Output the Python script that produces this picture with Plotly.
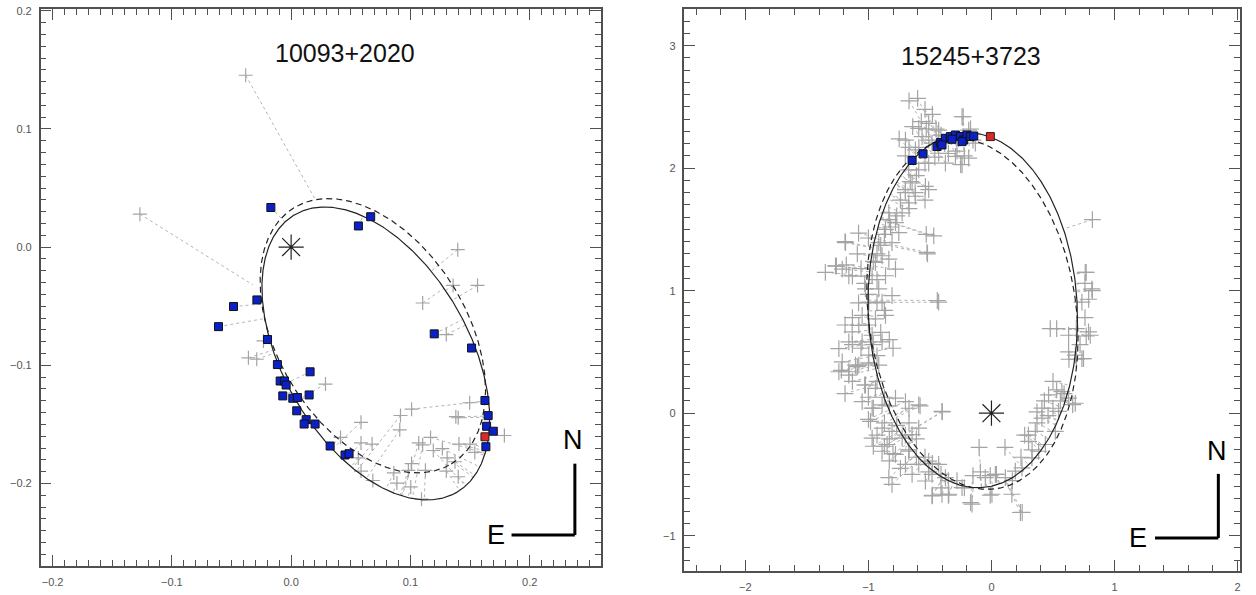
import numpy as np
import plotly.graph_objects as go

# ---------------- 10093+2020 ----------------
# older measurements (grey crosses)
L_OLD_X = [0.1397, 0.1358, 0.1563, 0.1103, 0.1301, -0.0358, -0.0288, -0.0232, 0.0288, 0.1010,
           0.0917, 0.0911, 0.0586, 0.0586, 0.0679, 0.1070, 0.1103, 0.1169, 0.1381, 0.1401,
           0.1497, 0.1500, 0.1407, 0.1308, 0.1192, 0.1010, 0.0983, 0.1126, 0.1003, 0.1093,
           0.0861, 0.0586, 0.0685, 0.0563, 0.1268, 0.1401, 0.1301, 0.1540, 0.1788, 0.0414,
           0.0887, 0.1374]
L_OLD_Y = [-0.0022, -0.0324, -0.0324, -0.0473, -0.0740, -0.0937, -0.0949, -0.0794, -0.1159, -0.1371,
           -0.1425, -0.1546, -0.1483, -0.1657, -0.1667, -0.1657, -0.1673, -0.1610, -0.1435, -0.1444,
           -0.1317, -0.1667, -0.1667, -0.1784, -0.1721, -0.1832, -0.1889, -0.1889, -0.2029, -0.2133,
           -0.1911, -0.1895, -0.1975, -0.1784, -0.1705, -0.1943, -0.1895, -0.1737, -0.1594, -0.1610,
           -0.1997, -0.1816]
# discrepant old measurements and their predicted positions on the orbit
L_FAR_X = [-0.0381, -0.1268]
L_FAR_Y = [0.1454, 0.0279]
L_FAR_PX = [0.021, -0.032]
L_FAR_PY = [0.039, -0.032]
# speckle measurements (blue squares)
L_NEW_X = [-0.0170, 0.0564, 0.0667, -0.0287, -0.0483, -0.0609, -0.0198, -0.0115, -0.0092, -0.0056,
           -0.0042, -0.0070, 0.0014, 0.0053, 0.0047, 0.0159, 0.0151, 0.0126, 0.0109, 0.0201,
           0.0327, 0.0452, 0.0486, 0.1200, 0.1513, 0.1625, 0.1652, 0.1639, 0.1695, 0.1633]
L_NEW_Y = [0.0335, 0.0179, 0.0257, -0.0447, -0.0503, -0.0673, -0.0782, -0.0994, -0.1133, -0.1133,
           -0.1167, -0.1259, -0.1279, -0.1273, -0.1385, -0.1055, -0.1251, -0.1460, -0.1497, -0.1497,
           -0.1683, -0.1759, -0.1748, -0.0734, -0.0854, -0.1298, -0.1426, -0.1516, -0.1558, -0.1689]
# latest measurement (red square)
L_LAST_X = [0.1625]
L_LAST_Y = [-0.1605]
# apparent orbits: centre x, centre y, semi-major, semi-minor, orientation (deg)
L_ORBIT_NEW = [0.071, -0.090, 0.1357, 0.0779, -60.2]
L_ORBIT_OLD = [0.0685, -0.075, 0.1269, 0.0794, -58.8]

# ---------------- 15245+3723 ----------------
R_OLD_X = [-0.67, -0.60, -0.54, -0.48, -0.23, -0.45, -0.41, -0.75, -0.67, -0.70, -0.59, -0.51, -0.38,
           -0.28, -0.17, -0.15, -0.22, -0.25, -0.53, -0.57, -0.64, -0.35, -0.46, -0.54, -0.61, -0.66,
           -0.62, -0.54, -0.70, -0.74, -0.67, -0.77, -0.83, -0.87, -0.82, -0.90, -0.93, -1.00, -1.08,
           -1.19, -1.09, -0.96, -1.06, -1.18, -1.26, -1.35, -1.13, -1.03, -0.93, -1.00, -1.08, -0.93,
           -0.87, -1.13, -1.19, -1.00, -0.90, -0.96, -1.06, -1.13, -0.83, -0.80, -0.93, -1.00, -1.09,
           -1.22, -1.19, -1.13, -1.03, -0.93, -1.00, -0.87, -0.96, -0.83, -0.67, -0.58, -0.40, -1.00,
           -0.87, -0.77, -0.67, -0.93, -0.83, -0.70, -0.61, -0.96, -0.87, -0.80, -0.67, -0.61, -0.83,
           -0.74, -0.54, -0.48, -0.51, -0.41, -0.35, -0.28, -0.41, -0.48, -0.35, -0.22, -0.15, -0.09,
           -0.01, 0.04, 0.17, -0.17, -0.01, -0.10, 0.11, 0.25, 0.30, 0.37, 0.46, 0.50, 0.56, 0.59,
           0.53, 0.43, 0.37, 0.27, 0.24, 0.33, 0.50, 0.63, 0.69, 0.72, 0.77, 0.69, 0.76, 0.79, 0.82,
           0.76, 0.77, 0.82, 0.53, 0.66, -0.44, -0.53, -0.52]
R_OLD_Y = [2.55, 2.57, 2.48, 2.44, 2.42, 2.32, 2.27, 2.24, 2.17, 2.10, 2.17, 2.23, 2.20,
           2.14, 2.32, 2.23, 2.10, 2.03, 2.32, 2.38, 2.34, 2.12, 2.09, 2.04, 1.94, 1.89,
           1.80, 1.74, 1.80, 1.74, 1.67, 1.61, 1.58, 1.46, 1.52, 1.37, 1.30, 1.43, 1.47,
           1.40, 1.30, 1.24, 1.18, 1.21, 1.20, 1.15, 1.12, 1.06, 1.09, 0.97, 0.90, 0.90,
           0.84, 0.78, 0.72, 0.72, 0.66, 0.56, 0.53, 0.56, 0.60, 0.53, 0.47, 0.41, 0.38,
           0.35, 0.16, 0.26, 0.23, 0.26, 0.13, 0.13, 0.04, 0.06, 0.04, 0.06, 0.01, -0.05,
           -0.08, -0.10, -0.08, -0.18, -0.21, -0.18, -0.21, -0.27, -0.27, -0.33, -0.30, -0.36, -0.39,
           -0.45, -0.36, -0.41, -0.48, -0.50, -0.55, -0.55, -0.61, -0.67, -0.67, -0.61, -0.51, -0.48,
           -0.51, -0.50, -0.55, -0.73, -0.67, -0.28, -0.28, -0.81, -0.18, -0.08, -0.02, 0.04, 0.10, 0.16,
           0.19, 0.10, 0.01, -0.18, -0.36, -0.30, 0.26, 0.44, 0.44, 0.56, 0.63, 0.69, 0.78, 0.93, 1.00,
           1.06, 1.15, 1.58, 0.69, 0.07, 0.92, 1.46, 1.30]
# further measurements along the north-east arc and the periastron side
R_MORE_X = [-0.699, -0.591, -0.510, -0.429, -0.564, -0.483, -0.618, -0.672, -0.591, -0.510, -0.429,
            -0.374, -0.293, -0.239, -0.185, -0.131, -0.185, -0.239, -0.537, -0.645, -0.699, -0.618,
            -0.510, -0.672, -0.726, -0.780, -0.834, -0.861, -0.916, -0.808, -0.753, -0.889, -0.943,
            -0.834, -0.970, -0.861, -0.780, -0.916, -1.024, -0.997, -0.889, -0.808, -1.051, -0.943,
            -0.861, -0.970, -1.051, -0.889, -0.997, -0.916, -1.105, -1.159, -1.213, -1.240, -1.159,
            -1.132, -1.078, -1.186, -1.213, -1.267, -1.159,
            0.762, 0.816, 0.735, 0.789, 0.627, 0.682, 0.748, -0.469, -0.524, -0.429, 0.478,
            -1.240, -1.159, -1.078, -1.024, -0.943, -1.051, -0.970, -0.889, -0.780, -0.699, -0.591,
            -0.402, -0.983, -0.889, -0.808, -0.970, -0.848, -0.780, -0.672, -0.591, -0.645, -0.726,
            -0.889, -0.699, -0.591, -0.510, -0.429, -0.483, -0.374, -0.537, -0.645, -0.834, -0.808,
            -0.402, -0.483, -0.347, -0.158, -0.239, -0.050, 0.032, 0.113, 0.194, 0.248, 0.235,
            0.166, 0.004, 0.329, 0.302, 0.356, 0.410, 0.410, 0.464, 0.572, 0.545, 0.519, 0.438,
            0.383, 0.627, 0.681, 0.627, 0.735, 0.803]
R_MORE_Y = [2.230, 2.325, 2.366, 2.311, 2.258, 2.204, 2.149, 1.987, 1.987, 2.041, 2.122,
            2.041, 2.096, 2.028, 2.082, 2.204, 2.311, 2.420, 1.852, 1.879, 1.825, 1.771,
            1.825, 1.717, 1.636, 1.555, 1.636, 1.500, 1.393, 1.393, 1.474, 1.285, 1.230,
            1.257, 1.122, 1.122, 1.176, 1.014, 1.014, 0.906, 0.906, 0.960, 0.798, 0.770,
            0.798, 0.636, 0.582, 0.582, 0.474, 0.393, 0.393, 0.338, 0.419, 0.527, 0.582,
            0.663, 0.717, 1.393, 1.176, 1.203, 1.122,
            1.149, 1.014, 0.906, 0.663, 0.636, 0.474, 0.446, 1.447, 1.312, 0.906, 0.690,
            0.338, 0.311, 0.393, 0.230, 0.203, 0.095, 0.041, 0.068, 0.122, 0.095, 0.068,
            0.014, -0.067, -0.122, -0.148, -0.203, -0.256, -0.337, -0.311, -0.122, -0.175, -0.203,
            -0.311, -0.418, -0.418, -0.392, -0.418, -0.500, -0.527, -0.554, -0.500, -0.527, -0.581,
            -0.662, -0.676, -0.662, -0.743, -0.608, -0.527, -0.500, -0.527, -0.473, -0.446, -0.811,
            -0.662, -0.662, -0.365, -0.230, -0.148, -0.041, 0.041, 0.149, 0.176, 0.014, -0.148, -0.256,
            -0.311, 0.122, 0.081, 0.500, 0.446, 0.636]
R_FAR_X = []
R_FAR_Y = []
R_FAR_PX = []
R_FAR_PY = []
R_NEW_X = [-0.645, -0.556, -0.442, -0.415, -0.374, -0.334, -0.293, -0.252, -0.226, -0.199,
           -0.171, -0.144, -0.239, -0.320, -0.402]
R_NEW_Y = [2.063, 2.117, 2.177, 2.209, 2.244, 2.258, 2.271, 2.258, 2.230, 2.271,
           2.258, 2.263, 2.217, 2.236, 2.190]
R_LAST_X = [-0.009]
R_LAST_Y = [2.258]
R_ORBIT_NEW = [-0.152, 0.840, 1.450, 0.850, 92.5]
R_ORBIT_OLD = [-0.155, 0.810, 1.440, 0.845, 97.5]

# axis settings per panel
PANELS = [
    dict(title="10093+2020", xrange=[-0.21, 0.26], yrange=[-0.27, 0.2015],
         xticks=[-0.2, -0.1, 0.0, 0.1, 0.2], yticks=[-0.2, -0.1, 0.0, 0.1, 0.2],
         xminor=0.01, yminor=0.01, fmt=".1f",
         xdom=[40.7 / 1256, 601.7 / 1256], ydom=[29 / 595, 590 / 595],
         title_xy=(345 / 1256, 1 - 49 / 595), cross_size=10,
         compass=dict(vx=0.953, vy0=0.056, vy1=0.184, hx0=0.840, nx=0.950, ny=0.226, ex=0.8125)),
    dict(title="15245+3723", xrange=[-2.495, 2.02], yrange=[-1.29, 3.30],
         xticks=[-2, -1, 0, 1, 2], yticks=[-1, 0, 1, 2, 3],
         xminor=0.2, yminor=0.1, fmt="d",
         xdom=[685 / 1256, 1241 / 1256], ydom=[24 / 595, 590 / 595],
         title_xy=(972 / 1256, 1 - 52 / 595), cross_size=12,
         compass=dict(vx=0.961, vy0=0.059, vy1=0.173, hx0=0.847, nx=0.9586, ny=0.213, ex=0.816)),
]

DATA = [
    (L_OLD_X, L_OLD_Y, L_FAR_X, L_FAR_Y, L_FAR_PX, L_FAR_PY, L_NEW_X, L_NEW_Y,
     L_LAST_X, L_LAST_Y, L_ORBIT_NEW, L_ORBIT_OLD),
    (R_OLD_X + R_MORE_X, R_OLD_Y + R_MORE_Y, R_FAR_X, R_FAR_Y, R_FAR_PX, R_FAR_PY, R_NEW_X, R_NEW_Y,
     R_LAST_X, R_LAST_Y, R_ORBIT_NEW, R_ORBIT_OLD),
]


def orbit_curve(params, n=1441):
    xc, yc, a, b, th = params
    t = np.linspace(0, 2 * np.pi, n)
    c, s = np.cos(np.radians(th)), np.sin(np.radians(th))
    x = xc + a * np.cos(t) * c - b * np.sin(t) * s
    y = yc + a * np.cos(t) * s + b * np.sin(t) * c
    return x, y


def residual_segments(px, py, ox, oy):
    """Dotted O-C links from each measurement to the closest orbit point."""
    sx, sy = [], []
    for x, y in zip(px, py):
        k = int(np.argmin((ox - x) ** 2 + (oy - y) ** 2))
        sx += [x, ox[k], None]
        sy += [y, oy[k], None]
    return sx, sy


fig = go.Figure()
AX = "#505050"
GREY = "#a4a4a4"
FONT = "Liberation Sans, Arial"

for i, (panel, d) in enumerate(zip(PANELS, DATA)):
    (ox_, oy_, fx, fy, fpx, fpy, nx_, ny_, lx, ly, orb_new, orb_old) = d
    xa = "x" if i == 0 else "x2"
    ya = "y" if i == 0 else "y2"
    ex, ey = orbit_curve(orb_new)
    dx, dy = orbit_curve(orb_old)

    sx, sy = residual_segments(list(ox_) + list(nx_) + list(lx), list(oy_) + list(ny_) + list(ly), ex, ey)
    for a, b, c, e in zip(fx, fy, fpx, fpy):
        sx += [a, c, None]
        sy += [b, e, None]
    fig.add_trace(go.Scatter(x=sx, y=sy, mode="lines", xaxis=xa, yaxis=ya,
                             line=dict(color="#b4b4b4", width=1, dash="dot"),
                             hoverinfo="skip", showlegend=False))
    fig.add_trace(go.Scatter(x=list(ox_) + list(fx), y=list(oy_) + list(fy), mode="markers",
                             xaxis=xa, yaxis=ya,
                             marker=dict(symbol="cross-thin", size=panel["cross_size"], color=GREY,
                                         line=dict(color=GREY, width=1.2)),
                             showlegend=False))
    fig.add_trace(go.Scatter(x=dx, y=dy, mode="lines", xaxis=xa, yaxis=ya,
                             line=dict(color="#222222", width=1.2, dash="6px,4px"),
                             hoverinfo="skip", showlegend=False))
    fig.add_trace(go.Scatter(x=ex, y=ey, mode="lines", xaxis=xa, yaxis=ya,
                             line=dict(color="#222222", width=1.2),
                             hoverinfo="skip", showlegend=False))
    fig.add_trace(go.Scatter(x=nx_, y=ny_, mode="markers", xaxis=xa, yaxis=ya,
                             marker=dict(symbol="square", size=8, color="#0b20c8",
                                         line=dict(color="#111111", width=1)),
                             showlegend=False))
    fig.add_trace(go.Scatter(x=lx, y=ly, mode="markers", xaxis=xa, yaxis=ya,
                             marker=dict(symbol="square", size=8, color="#dd2828",
                                         line=dict(color="#222222", width=1)),
                             showlegend=False))
    fig.add_trace(go.Scatter(x=[0], y=[0], mode="markers", xaxis=xa, yaxis=ya,
                             marker=dict(symbol="asterisk-open", size=21, color="#222222",
                                         line=dict(color="#222222", width=1.2)),
                             showlegend=False))

    common = dict(showline=True, linecolor=AX, linewidth=1.5, mirror="ticks",
                  ticks="inside", ticklen=11, tickwidth=1.3, tickcolor=AX,
                  showgrid=False, zeroline=False, ticklabelstandoff=5,
                  tickfont=dict(family=FONT, size=11, color="#555555"))
    xkey = "xaxis" if i == 0 else "xaxis2"
    ykey = "yaxis" if i == 0 else "yaxis2"
    fig.update_layout(**{
        xkey: dict(common, range=panel["xrange"], domain=panel["xdom"], anchor=ya,
                   tickvals=panel["xticks"], tickformat=panel["fmt"],
                   minor=dict(dtick=panel["xminor"], ticklen=6, tickwidth=1.1,
                              tickcolor=AX, ticks="inside")),
        ykey: dict(common, range=panel["yrange"], domain=panel["ydom"], anchor=xa,
                   tickvals=panel["yticks"], tickformat=panel["fmt"],
                   minor=dict(dtick=panel["yminor"], ticklen=6, tickwidth=1.1,
                              tickcolor=AX, ticks="inside")),
    })

    fig.add_annotation(text=panel["title"], x=panel["title_xy"][0], y=panel["title_xy"][1],
                       xref="paper", yref="paper", showarrow=False,
                       xanchor="center", yanchor="middle",
                       font=dict(family=FONT, size=25, color="#111111"))

    # orientation marker: north up, east left
    cp = panel["compass"]
    xd, yd = f"{xa} domain", f"{ya} domain"
    fig.add_shape(type="line", xref=xd, yref=yd, x0=cp["vx"], x1=cp["vx"],
                  y0=cp["vy0"], y1=cp["vy1"], line=dict(color="black", width=3))
    fig.add_shape(type="line", xref=xd, yref=yd, x0=cp["hx0"], x1=cp["vx"],
                  y0=cp["vy0"], y1=cp["vy0"], line=dict(color="black", width=3))
    fig.add_annotation(text="N", xref=xd, yref=yd, x=cp["nx"], y=cp["ny"], showarrow=False,
                       xanchor="center", yanchor="middle",
                       font=dict(family=FONT, size=27, color="black"))
    fig.add_annotation(text="E", xref=xd, yref=yd, x=cp["ex"], y=cp["vy0"], showarrow=False,
                       xanchor="center", yanchor="middle",
                       font=dict(family=FONT, size=27, color="black"))

fig.update_layout(width=1256, height=595, margin=dict(l=0, r=0, t=0, b=0),
                  paper_bgcolor="white", plot_bgcolor="white", showlegend=False)

fig.write_html("out.html")
